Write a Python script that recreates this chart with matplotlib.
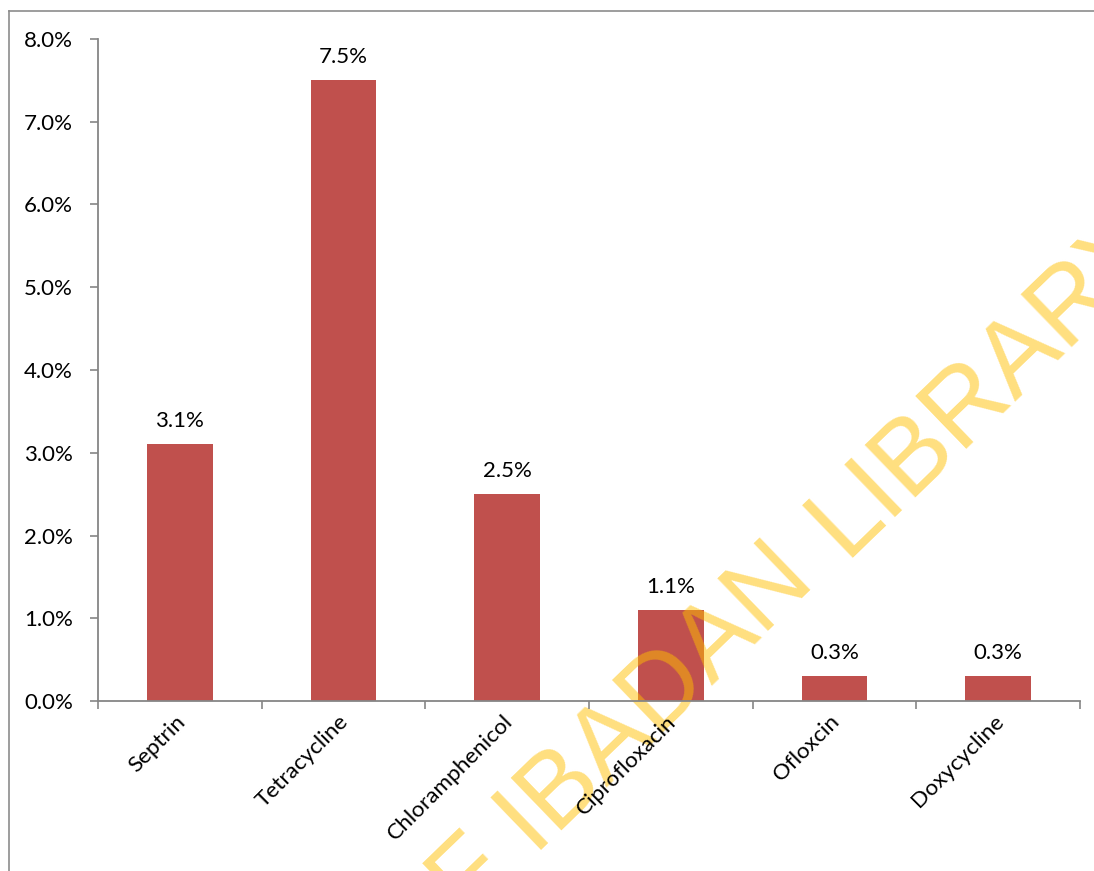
import numpy as np
import matplotlib
matplotlib.use("Agg")
import matplotlib.pyplot as plt
from matplotlib.lines import Line2D
from matplotlib.transforms import ScaledTranslation

# Data
drugs = ["Septrin", "Tetracycline", "Chloramphenicol", "Ciprofloxacin", "Ofloxcin", "Doxycycline"]
resistance_pct = [3.1, 7.5, 2.5, 1.1, 0.3, 0.3]
y_ticks = [0.0, 1.0, 2.0, 3.0, 4.0, 5.0, 6.0, 7.0, 8.0]

W, H = 1094, 871
DPI = 100
plt.rcParams['font.family'] = ['Lato', 'DejaVu Sans']

fig = plt.figure(figsize=(W / DPI, H / DPI), dpi=DPI)
fig.patch.set_facecolor('white')

ax = fig.add_axes([98 / W, 1 - 701 / H, (1080 - 98) / W, (701 - 39) / H])

axis_gray = '#868686'
bar_color = '#C0504D'
x = np.arange(len(drugs))

ax.bar(x, resistance_pct, width=0.4, color=bar_color, zorder=1)

for xi, v in zip(x, resistance_pct):
    ax.annotate(f"{v:.1f}%", (xi, v), xytext=(0, 9.5), textcoords='offset points',
                ha='center', va='bottom', fontsize=16, color='black', zorder=3)

ax.set_xlim(-0.5, len(drugs) - 0.5)
ax.set_ylim(0, 8.0)
ax.set_yticks(y_ticks)
ax.set_yticklabels([f"{t:.1f}%" for t in y_ticks])

# category labels at bar centres, tick marks at category boundaries
ax.set_xticks(x)
ax.set_xticklabels(drugs, rotation=45, ha='right', va='top', rotation_mode='anchor')
ax.set_xticks(np.arange(len(drugs) + 1) - 0.5, minor=True)
ax.tick_params(axis='x', which='major', length=0, pad=7.5, labelsize=16.2)
ax.tick_params(axis='x', which='minor', length=6, width=1.2, color=axis_gray, direction='out')
ax.tick_params(axis='y', length=6, width=1.2, color=axis_gray, direction='out', pad=12, labelsize=16)
shift = ScaledTranslation(-5 / DPI, 0, fig.dpi_scale_trans)
for lbl in ax.get_xticklabels():
    lbl.set_transform(lbl.get_transform() + shift)

for side in ['top', 'right']:
    ax.spines[side].set_visible(False)
for side in ['left', 'bottom']:
    ax.spines[side].set_color(axis_gray)
    ax.spines[side].set_linewidth(1.3)
ax.set_axisbelow(False)
ax.patch.set_alpha(0)

# chart frame
fig.add_artist(Line2D([8.5 / W, 8.5 / W], [1 - 11.5 / H, 0], color='#8c8c8c', lw=1.2,
                      transform=fig.transFigure))
fig.add_artist(Line2D([8.5 / W, 1.0], [1 - 11.5 / H, 1 - 11.5 / H], color='#8c8c8c', lw=1.2,
                      transform=fig.transFigure))

# library watermark
ang = 44
wm = dict(fontsize=76, color='#FFC000', alpha=0.5, rotation=ang, rotation_mode='anchor',
          va='baseline', family='Liberation Sans', transform=fig.transFigure,
          clip_on=False, zorder=2)
ox, oy = 844, 558
ax.text(ox / W, 1 - oy / H, "LIBRARY", ha='left', **wm)
d = 37
c, s = np.cos(np.radians(ang)), np.sin(np.radians(ang))
ax.text((ox - d * c) / W, 1 - (oy + d * s) / H, "UNIVERSITY OF IBADAN", ha='right', **wm)

fig.savefig("out.png", dpi=DPI, facecolor='white')
